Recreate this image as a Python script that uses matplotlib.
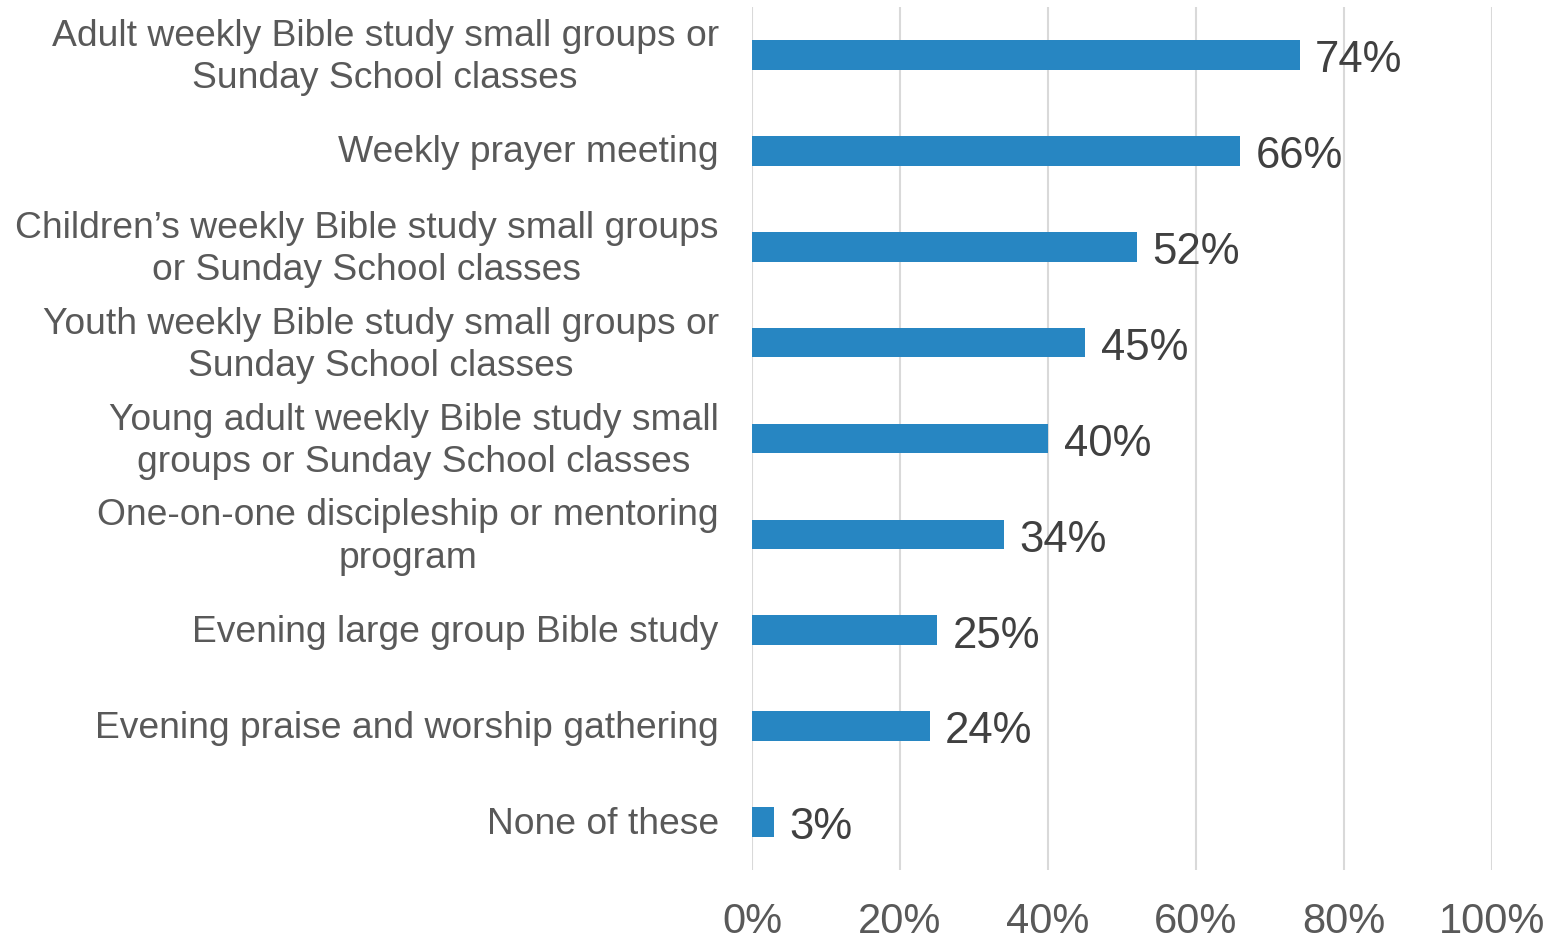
import matplotlib
matplotlib.use("Agg")
import matplotlib.pyplot as plt
from matplotlib.transforms import ScaledTranslation

plt.rcParams['font.family'] = ['Liberation Sans', 'DejaVu Sans']

categories = [
    "Adult weekly Bible study small groups or\nSunday School classes",
    "Weekly prayer meeting",
    "Children\u2019s weekly Bible study small groups\nor Sunday School classes",
    "Youth weekly Bible study small groups or\nSunday School classes",
    "Young adult weekly Bible study small\ngroups or Sunday School classes",
    "One-on-one discipleship or mentoring\nprogram",
    "Evening large group Bible study",
    "Evening praise and worship gathering",
    "None of these",
]
values = [74, 66, 52, 45, 40, 34, 25, 24, 3]
xticks = [0, 20, 40, 60, 80, 100]
xticklabels = ["0%", "20%", "40%", "60%", "80%", "100%"]

fig = plt.figure(figsize=(15.56, 9.39), dpi=100)
ax = fig.add_axes([752/1556, 1-870/939, (1492-752)/1556, (870-7)/939])

ypos = list(range(len(categories)))
ax.barh(ypos, values, height=0.31, color='#2786C2', zorder=3)
ax.set_ylim(len(categories)-0.5, -0.5)
ax.set_xlim(0, 100)

ax.set_yticks(ypos)
ax.set_yticklabels(categories, fontsize=26.8, color='#595959', multialignment='center',
                   linespacing=1.27)
ax.set_xticks(xticks)
ax.set_xticklabels(xticklabels, fontsize=30, color='#595959')
ax.tick_params(axis='y', length=0, pad=24)
ax.tick_params(axis='x', length=0, pad=23)

for lbl in ax.get_yticklabels():
    dy = 5 if "\n" in lbl.get_text() else 2
    lbl.set_transform(lbl.get_transform() + ScaledTranslation(0, dy/100, fig.dpi_scale_trans))

ax.grid(axis='x', color='#D9D9D9', linewidth=1.5, zorder=0)
ax.grid(axis='y', visible=False)
for s in ax.spines.values():
    s.set_visible(False)

for y, v in zip(ypos, values):
    ax.text(v + 2.1, y + 0.06, f"{v}%", va='center', ha='left', fontsize=31.5, color='#404040')

fig.savefig("out.png", dpi=100)
